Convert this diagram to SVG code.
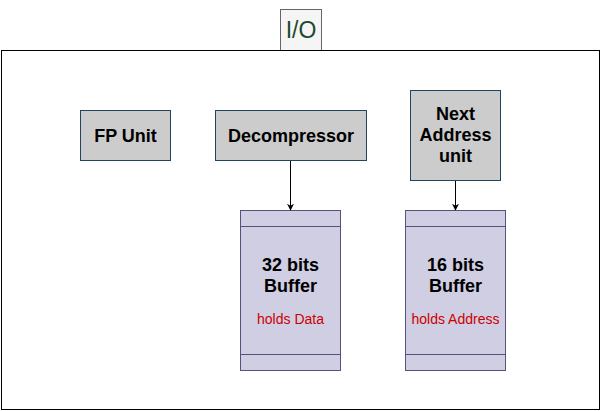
<svg xmlns="http://www.w3.org/2000/svg" width="601" height="411" viewBox="0 0 601 411">
<defs>
<style>
.unit{fill:#cccccc;stroke:#23445d;stroke-width:1}
.buf{fill:#d0cee2;stroke:#56517e;stroke-width:1}
.lbl{font-family:"Liberation Sans",Arial,sans-serif;font-size:18px;font-weight:bold;fill:#000;text-anchor:middle}
.note{font-family:"Liberation Sans",Arial,sans-serif;font-size:14px;fill:#cc0000;text-anchor:middle}
.conn{stroke:#000;stroke-width:1;fill:none}
</style>
<marker id="arr" viewBox="0 0 10 10" refX="9" refY="5" markerWidth="7" markerHeight="7" orient="auto" markerUnits="userSpaceOnUse">
<path d="M0,0 L10,5 L0,10 L3,5 Z" fill="#000"/>
</marker>
</defs>
<rect width="601" height="411" fill="#fff"/>
<g id="io">
<rect x="280.5" y="9.5" width="41" height="41" fill="#f5f5f5" stroke="#666666"/>
<text x="301" y="38" font-family="'Liberation Sans',Arial,sans-serif" font-size="23" fill="#1b4a2c" text-anchor="middle">I/O</text>
</g>
<g id="container">
<rect x="1.5" y="50.5" width="598" height="359" fill="none" stroke="#000"/>
</g>
<g id="fp-unit">
<rect class="unit" x="80.5" y="110.5" width="90" height="50"/>
<text class="lbl" x="125.5" y="141.5">FP Unit</text>
</g>
<g id="decompressor">
<rect class="unit" x="215.5" y="110.5" width="151" height="50"/>
<text class="lbl" x="291" y="141.5">Decompressor</text>
</g>
<g id="next-address">
<rect class="unit" x="410.5" y="90.5" width="90" height="90"/>
<text class="lbl" x="455.5" y="120">Next</text>
<text class="lbl" x="455.5" y="141">Address</text>
<text class="lbl" x="455.5" y="162">unit</text>
</g>
<g id="buffer32">
<rect class="buf" x="240.5" y="210.5" width="100" height="160"/>
<line class="buf" x1="240.5" y1="226.5" x2="340.5" y2="226.5"/>
<line class="buf" x1="240.5" y1="354.5" x2="340.5" y2="354.5"/>
<text class="lbl" x="290.5" y="271">32 bits</text>
<text class="lbl" x="290.5" y="292">Buffer</text>
<text class="note" x="290.5" y="324">holds Data</text>
</g>
<g id="buffer16">
<rect class="buf" x="405.5" y="210.5" width="100" height="160"/>
<line class="buf" x1="405.5" y1="226.5" x2="505.5" y2="226.5"/>
<line class="buf" x1="405.5" y1="354.5" x2="505.5" y2="354.5"/>
<text class="lbl" x="455.5" y="271">16 bits</text>
<text class="lbl" x="455.5" y="292">Buffer</text>
<text class="note" x="455.5" y="324">holds Address</text>
</g>
<g id="connectors">
<line class="conn" x1="290.5" y1="161" x2="290.5" y2="210" marker-end="url(#arr)"/>
<line class="conn" x1="455.5" y1="181" x2="455.5" y2="210" marker-end="url(#arr)"/>
</g>
</svg>
